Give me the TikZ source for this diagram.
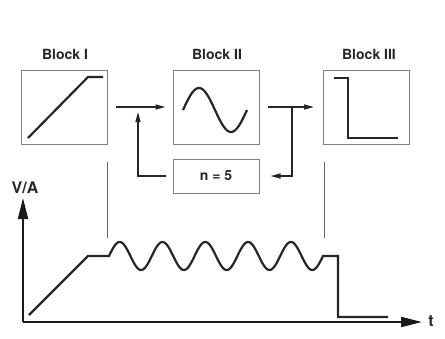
\documentclass[tikz,border=0pt]{standalone}
\usepackage{fontspec}
\setmainfont{TeX Gyre Heros}
\usetikzlibrary{arrows.meta}
\begin{document}
\begin{tikzpicture}[x=1pt,y=-1pt,
 box/.style={draw=black!50, line width=1pt, minimum width=86pt, minimum height=74pt, inner sep=0pt},
 lbl/.style={font=\bfseries\fontsize{14}{16}\selectfont, text=black!85, inner sep=0pt},
 sig/.style={line width=2.2pt, draw=black!85, line join=miter},
 conn/.style={line width=1.5pt, draw=black!85},
 arr/.style={conn, -{Triangle[length=10pt,width=5pt]}},
 axarr/.style={line width=2pt, draw=black!90, -{Triangle[length=21pt,width=10pt]}},
 guide/.style={line width=0.9pt, draw=black!60}]
\useasboundingbox (0,0) rectangle (445,338);
% blocks
\node[box] (b1) at (64.5,107) {};
\node[box] (b2) at (216,107) {};
\node[box] (b3) at (366.5,107) {};
\node[box, minimum height=34pt] (n5) at (216,176) {};
\node[lbl] at (n5.center) {n = 5};
\node[lbl] (l1) at (65,54) {Block I};
\node[lbl] (l2) at (217,54) {Block II};
\node[lbl] (l3) at (369,54) {Block III};
% block contents
\draw[sig] (28,138) -- (88,77) -- (103,77);
\draw[sig] plot[domain=0:360, samples=72, smooth] ({183+\x/360*64},{110-22*sin(\x)});
\draw[sig] (334,78) -- (348,78) -- (348,138) -- (398,138);
% connectors
\coordinate (j1) at (138,112);
\coordinate (j2) at (292,107);
\draw[arr, shorten <=8pt, shorten >=7pt] (b1.east) -- (b2.west);
\draw[arr, shorten <=8pt, shorten >=9pt] (b2.east) -- (b3.west);
\draw[arr] ([xshift=-7pt]n5.west) -| (j1);
\draw[arr] (j2) |- ([xshift=11pt]n5.east);
% guides
\coordinate (g1t) at (107,162);
\coordinate (g1b) at (107,238);
\coordinate (g2t) at (324,162);
\coordinate (g2b) at (324,238);
\draw[guide] (g1t) -- (g1b);
\draw[guide] (g2t) -- (g2b);
% axes
\coordinate (o) at (23,322);
\coordinate (ytip) at (23,198);
\coordinate (xtip) at (422,322);
\draw[axarr] (o) -- (ytip);
\draw[axarr] (o) -- (xtip);
\node[lbl, font=\bfseries\fontsize{16}{18}\selectfont] (va) at (25,188) {V/A};
\node[lbl, font=\bfseries\fontsize{16}{18}\selectfont] (t) at (431,321) {t};
% signal
\draw[sig] (29,315) -- (88,256) -- (109,256)
  -- plot[domain=0:1800, samples=300, smooth] ({109+\x/1800*214},{256-14*sin(\x)})
  -- (325,256) -- (338,256) -- (338,317) -- (388,317);
\end{tikzpicture}
\end{document}
